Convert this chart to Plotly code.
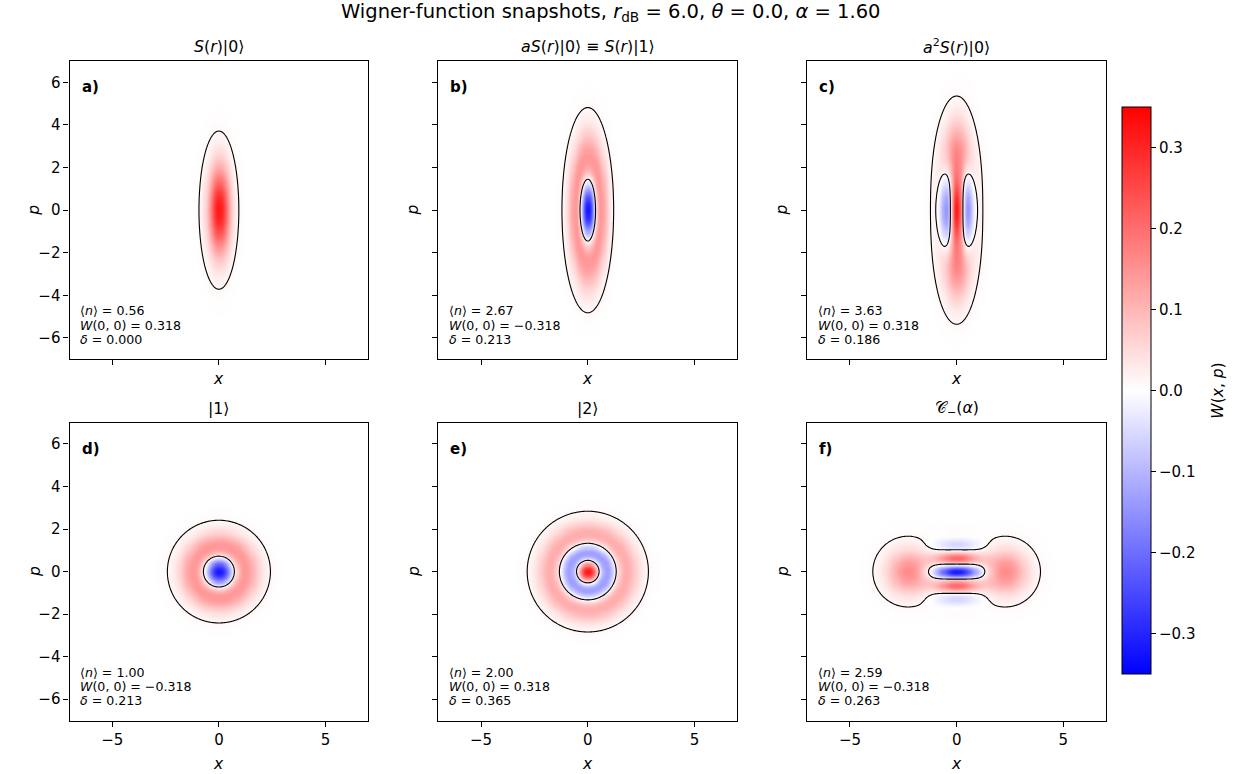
import numpy as np
import plotly.graph_objects as go
from numpy.polynomial.hermite import hermval
from math import factorial, sqrt, pi, log

# ---------------- parameters / data ----------------
r_dB = 6.0
theta = 0.0
alpha = 1.60
panel_letters = ["a)", "b)", "c)", "d)", "e)", "f)"]
panel_titles = [
    "<i>S</i>(<i>r</i>)|0⟩",
    "<i>aS</i>(<i>r</i>)|0⟩ ≡ <i>S</i>(<i>r</i>)|1⟩",
    "<i>a</i><sup>2</sup><i>S</i>(<i>r</i>)|0⟩",
    "|1⟩",
    "|2⟩",
    "𝒞<sub>−</sub>(<i>α</i>)",
]
n_mean = [0.56, 2.67, 3.63, 1.00, 2.00, 2.59]
w00 = [0.318, -0.318, 0.318, -0.318, 0.318, -0.318]
delta = [0.000, 0.213, 0.186, 0.213, 0.365, 0.263]
contour_level = [0.01]
color_limits = [-0.35, 0.35]
x_ticks = [-5, 0, 5]
y_ticks = [-6, -4, -2, 0, 2, 4, 6]
cbar_ticks = [-0.3, -0.2, -0.1, 0.0, 0.1, 0.2, 0.3]
axis_range = [-7, 7]

# ---------------- Wigner functions of the states ----------------
r = r_dB * log(10) / 20.0
grid = np.linspace(axis_range[0], axis_range[1], 281)
yint = np.linspace(-7.5, 7.5, 901)
dy = yint[1] - yint[0]


def fock(n, u):
    c = np.zeros(n + 1)
    c[n] = 1.0
    return hermval(u, c) * np.exp(-u ** 2 / 2) / sqrt(2 ** n * factorial(n) * sqrt(pi))


def squeeze(f):
    return lambda u: np.exp(r / 2) * f(u * np.exp(r))


ch, sh = np.cosh(r), np.sinh(r)
x0 = sqrt(2) * alpha
wavefuncs = [
    squeeze(lambda u: fock(0, u)),
    squeeze(lambda u: fock(1, u)),
    squeeze(lambda u: ch * fock(0, u) - sqrt(2) * sh * fock(2, u)),
    lambda u: fock(1, u),
    lambda u: fock(2, u),
    lambda u: np.exp(-(u - x0) ** 2 / 2) - np.exp(-(u + x0) ** 2 / 2),
]


def wigner(psi):
    fine = np.linspace(-15, 15, 6001)
    norm = np.sum(psi(fine) ** 2) * (fine[1] - fine[0])
    X, Y = np.meshgrid(grid, yint, indexing="ij")
    K = psi(X + Y) * psi(X - Y) / norm
    C = np.cos(2 * np.outer(yint, grid))
    W = K @ C * dy / pi  # W[x, p]
    return W.T  # rows = p, cols = x


W_all = [wigner(f) for f in wavefuncs]

# ---------------- layout geometry (pixels) ----------------
FW, FH = 1236, 774
cols_px = [(69.5, 368.3), (438.3, 737.3), (807.3, 1106.0)]
rows_px = [(61.0, 359.3), (422.7, 720.5)]


def px(x):
    return x / FW


def py(y):
    return 1 - y / FH


def fmt_signed(v, nd):
    return ("−" if v < 0 else "") + f"{abs(v):.{nd}f}"


bwr = [[0.0, "rgb(0,0,255)"], [0.5, "rgb(255,255,255)"], [1.0, "rgb(255,0,0)"]]
FONT = "DejaVu Sans"

fig = go.Figure()
layout = dict(
    width=FW, height=FH, margin=dict(l=0, r=0, t=0, b=0),
    paper_bgcolor="white", plot_bgcolor="white",
    font=dict(family=FONT, size=14, color="black"),
    showlegend=False,
)
annotations = []


def note(x, y, text, size, **kw):
    d = dict(x=px(x), y=py(y), xref="paper", yref="paper", text=text,
             showarrow=False, xanchor="center", yanchor="middle",
             font=dict(family=FONT, size=size, color="black"))
    d.update(kw)
    annotations.append(d)


for i in range(6):
    row, col = divmod(i, 3)
    ax = "" if i == 0 else str(i + 1)
    (l, rr), (t, b) = cols_px[col], rows_px[row]
    fig.add_trace(go.Heatmap(
        x=grid, y=grid, z=W_all[i], colorscale=bwr,
        zmin=color_limits[0], zmax=color_limits[1], zsmooth="best",
        xaxis="x" + ax, yaxis="y" + ax, hoverinfo="skip",
        showscale=(i == 0),
        colorbar=dict(
            x=px(1122.3), xanchor="left", y=py(390.7), yanchor="middle",
            xpad=0, ypad=0, len=566.7, lenmode="pixels",
            thickness=28.7, thicknessmode="pixels",
            outlinewidth=1, outlinecolor="black",
            tickvals=cbar_ticks,
            ticktext=[fmt_signed(v, 1) for v in cbar_ticks],
            ticks="outside", ticklen=5, tickwidth=1, tickcolor="black",
            tickfont=dict(family=FONT, size=15),
        ),
    ))
    fig.add_trace(go.Contour(
        x=grid, y=grid, z=W_all[i], autocontour=False,
        contours=dict(start=contour_level[0], end=contour_level[0], size=1.0,
                      coloring="none"),
        line=dict(color="black", width=1.1, smoothing=0.8),
        showscale=False, hoverinfo="skip",
        xaxis="x" + ax, yaxis="y" + ax,
    ))
    common = dict(range=axis_range, showgrid=False, zeroline=False,
                  showline=True, linecolor="black", linewidth=1.1, mirror=True,
                  ticks="outside", ticklen=5, tickwidth=1.1, tickcolor="black",
                  tickfont=dict(family=FONT, size=15))
    layout["xaxis" + ax] = dict(common, domain=[px(l), px(rr)], anchor="y" + ax,
                                tickvals=x_ticks,
                                ticktext=[fmt_signed(v, 0) for v in x_ticks],
                                showticklabels=(row == 1))
    layout["yaxis" + ax] = dict(common, domain=[py(b), py(t)], anchor="x" + ax,
                                tickvals=y_ticks,
                                ticktext=[fmt_signed(v, 0) for v in y_ticks],
                                showticklabels=(col == 0))
    cx = (l + rr) / 2
    cy = (t + b) / 2
    note(cx, t - 14.5, panel_titles[i], 15.8)
    note(l + 10, t + 26, "<b>" + panel_letters[i] + "</b>", 15, xanchor="left")
    stats = [f"⟨<i>n</i>⟩ = {n_mean[i]:.2f}",
             f"<i>W</i>(0, 0) = {fmt_signed(w00[i], 3)}",
             f"<i>δ</i> = {delta[i]:.3f}"]
    for k, s in enumerate(stats):
        note(l + 8.5, b - 48.5 + 14.2 * k, s, 12.6, xanchor="left")
    note(cx, b + (20 if row == 0 else 43), "<i>x</i>", 15.5)
    note(l - (35 if col == 0 else 25), cy, "<i>p</i>", 15.5, textangle=-90)

# colorbar label
note(1218, 390.7, "<i>W</i>(<i>x</i>, <i>p</i>)", 15.5, textangle=-90)

note(611, 12,
     (f"Wigner-function snapshots, <i>r</i><sub>dB</sub> = {r_dB:.1f}, "
      f"<i>θ</i> = {theta:.1f}, <i>α</i> = {alpha:.2f}"),
     19.5)

layout["annotations"] = annotations
fig.update_layout(**layout)
fig.write_html("out.html")
